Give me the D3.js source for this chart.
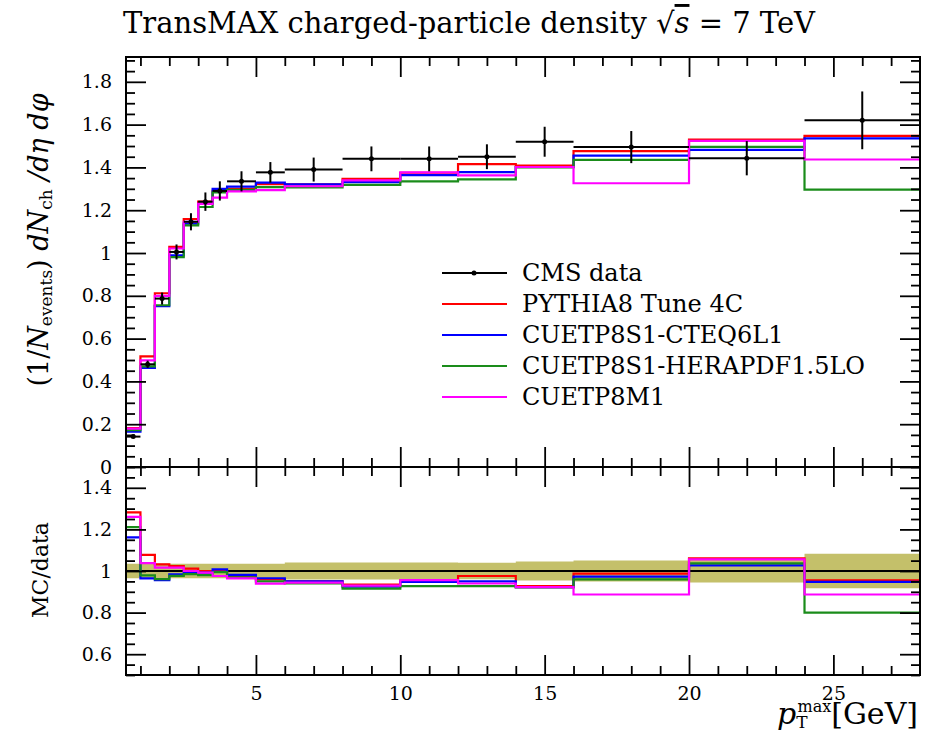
<!DOCTYPE html>
<html>
<head>
<meta charset="utf-8">
<script src="https://cdn.jsdelivr.net/npm/d3@7"></script>
<style>
  html, body { margin: 0; padding: 0; background: #fff; }
  svg { display: block; font-family: "DejaVu Serif", "Liberation Serif", serif; }
</style>
</head>
<body>
<svg id="chart" width="933" height="736"></svg>
<script>
// bin edges in pT max [GeV]
const binEdges = [0.5, 1, 1.5, 2, 2.5, 3, 3.5, 4, 5, 6, 8, 10, 12, 14, 16, 20, 24, 28];

// CMS data and its uncertainty
const cmsData = [0.142, 0.48, 0.787, 1.005, 1.146, 1.24, 1.29, 1.335, 1.377, 1.39, 1.44, 1.44, 1.45, 1.52, 1.495, 1.443, 1.62];
const cmsErr  = [0.005, 0.017, 0.028, 0.035, 0.04, 0.043, 0.045, 0.047, 0.048, 0.056, 0.058, 0.058, 0.058, 0.07, 0.075, 0.08, 0.135];

// MC predictions
const pythia4C  = [0.182, 0.517, 0.812, 1.029, 1.159, 1.24, 1.29, 1.30, 1.322, 1.321, 1.346, 1.375, 1.415, 1.409, 1.476, 1.530, 1.547];
const cteq6l1   = [0.165, 0.463, 0.752, 0.989, 1.137, 1.230, 1.30, 1.31, 1.329, 1.321, 1.331, 1.364, 1.378, 1.402, 1.455, 1.482, 1.536];
const herapdf   = [0.172, 0.470, 0.756, 0.981, 1.129, 1.215, 1.283, 1.295, 1.308, 1.307, 1.318, 1.335, 1.344, 1.400, 1.435, 1.496, 1.296];
const cuetp8m1  = [0.179, 0.498, 0.800, 1.021, 1.146, 1.230, 1.259, 1.288, 1.294, 1.312, 1.339, 1.377, 1.363, 1.402, 1.326, 1.524, 1.437];

const mcSeries = [
  { name: 'PYTHIA8 Tune 4C', values: pythia4C, color: '#ff0000' },
  { name: 'CUETP8S1-CTEQ6L1', values: cteq6l1, color: '#0000ff' },
  { name: 'CUETP8S1-HERAPDF1.5LO', values: herapdf, color: '#1a8c1a' },
  { name: 'CUETP8M1', values: cuetp8m1, color: '#ff00ff' }
];

const mainTicks  = [0, 0.2, 0.4, 0.6, 0.8, 1, 1.2, 1.4, 1.6, 1.8];
const ratioTicks = [0.6, 0.8, 1, 1.2, 1.4];
const xTicks     = [5, 10, 15, 20, 25];

const svg = d3.select('#chart');
const left = 126, right = 920;
const mainTop = 57, mainBottom = 467, ratioBottom = 675;

const x = d3.scaleLinear().domain([0.5, 28]).range([left, right]);
const y = d3.scaleLinear().domain([0, 1.916]).range([mainBottom, mainTop]);
const yr = d3.scaleLinear().domain([0.5, 1.5]).range([ratioBottom, mainBottom]);

const fmt = d => String(+d.toFixed(1));
const majorLen = 20, minorLen = 9;

// clip paths
const defs = svg.append('defs');
defs.append('clipPath').attr('id', 'clipMain').append('rect')
  .attr('x', left).attr('y', mainTop).attr('width', right - left).attr('height', mainBottom - mainTop);
defs.append('clipPath').attr('id', 'clipRatio').append('rect')
  .attr('x', left).attr('y', mainBottom).attr('width', right - left).attr('height', ratioBottom - mainBottom);

// step line helper: value held across each bin
function stepPoints(vals) {
  const pts = vals.map((v, i) => [binEdges[i], v]);
  pts.push([binEdges[vals.length], vals[vals.length - 1]]);
  return pts;
}

// ---- ratio band (data uncertainty) ----
const bandPts = cmsData.map((d, i) => ({ x: binEdges[i], lo: 1 - cmsErr[i] / d, hi: 1 + cmsErr[i] / d }));
bandPts.push({ x: binEdges[cmsData.length], lo: bandPts[bandPts.length - 1].lo, hi: bandPts[bandPts.length - 1].hi });
svg.append('path')
  .attr('clip-path', 'url(#clipRatio)')
  .attr('fill', '#c4c06a')
  .attr('d', d3.area().curve(d3.curveStepAfter)
    .x(d => x(d.x)).y0(d => yr(d.lo)).y1(d => yr(d.hi))(bandPts));

svg.append('line')
  .attr('x1', left).attr('x2', right)
  .attr('y1', yr(1)).attr('y2', yr(1))
  .attr('stroke', '#000').attr('stroke-width', 2);

// ---- MC histograms ----
const stepLine = (ys) => d3.line().curve(d3.curveStepAfter).x(d => x(d[0])).y(d => ys(d[1]));

mcSeries.forEach(s => {
  svg.append('path')
    .attr('clip-path', 'url(#clipMain)')
    .attr('fill', 'none')
    .attr('stroke', s.color)
    .attr('stroke-width', 2.2)
    .attr('d', stepLine(y)(stepPoints(s.values)));
  const ratio = s.values.map((v, i) => v / cmsData[i]);
  svg.append('path')
    .attr('clip-path', 'url(#clipRatio)')
    .attr('fill', 'none')
    .attr('stroke', s.color)
    .attr('stroke-width', 2.2)
    .attr('d', stepLine(yr)(stepPoints(ratio)));
});

// ---- data points ----
const pts = svg.append('g').attr('stroke', '#000').attr('stroke-width', 2);
cmsData.forEach((v, i) => {
  const lo = binEdges[i], hi = binEdges[i + 1], c = (lo + hi) / 2;
  pts.append('line').attr('x1', x(lo)).attr('x2', x(hi)).attr('y1', y(v)).attr('y2', y(v));
  pts.append('line').attr('x1', x(c)).attr('x2', x(c)).attr('y1', y(v - cmsErr[i])).attr('y2', y(v + cmsErr[i]));
  pts.append('circle').attr('cx', x(c)).attr('cy', y(v)).attr('r', 2.5).attr('fill', '#000').attr('stroke', 'none');
});

// ---- axes (ticks point inward on all sides) ----
function styleAxis(g) {
  g.select('.domain').remove();
  g.selectAll('.tick line').attr('stroke', '#000').attr('stroke-width', 1.8);
  g.selectAll('.tick text').attr('fill', '#000').attr('font-size', 19)
    .attr('font-family', '"DejaVu Serif", serif');
}

function yAxes(scale, majors) {
  const [d0, d1] = scale.domain();
  const minors = d3.range(Math.ceil(d0 / 0.05) * 0.05, d1 + 1e-9, 0.05)
    .filter(v => !majors.some(m => Math.abs(m - v) < 1e-6));
  svg.append('g').attr('transform', `translate(${left},0)`)
    .call(d3.axisLeft(scale).tickValues(majors).tickSizeInner(-majorLen).tickSizeOuter(0).tickPadding(14).tickFormat(fmt))
    .call(styleAxis);
  svg.append('g').attr('transform', `translate(${left},0)`)
    .call(d3.axisLeft(scale).tickValues(minors).tickSizeInner(-minorLen).tickSizeOuter(0).tickFormat(''))
    .call(styleAxis);
  svg.append('g').attr('transform', `translate(${right},0)`)
    .call(d3.axisRight(scale).tickValues(majors).tickSizeInner(-majorLen).tickSizeOuter(0).tickFormat(''))
    .call(styleAxis);
  svg.append('g').attr('transform', `translate(${right},0)`)
    .call(d3.axisRight(scale).tickValues(minors).tickSizeInner(-minorLen).tickSizeOuter(0).tickFormat(''))
    .call(styleAxis);
}
yAxes(y, mainTicks);
yAxes(yr, ratioTicks);

const xMinors = d3.range(1, 28).filter(v => v % 5 !== 0);
function xAxes(yPos, axisFn, withLabels) {
  svg.append('g').attr('transform', `translate(0,${yPos})`)
    .call(axisFn(x).tickValues(xTicks).tickSizeInner(-majorLen).tickSizeOuter(0).tickPadding(12)
      .tickFormat(withLabels ? d3.format('d') : ''))
    .call(styleAxis);
  svg.append('g').attr('transform', `translate(0,${yPos})`)
    .call(axisFn(x).tickValues(xMinors).tickSizeInner(-minorLen).tickSizeOuter(0).tickFormat(''))
    .call(styleAxis);
}
xAxes(mainTop, d3.axisTop, false);
xAxes(mainBottom, d3.axisBottom, false);
xAxes(mainBottom, d3.axisTop, false);
xAxes(ratioBottom, d3.axisBottom, true);

// frames
[[mainTop, mainBottom], [mainBottom, ratioBottom]].forEach(([t, b]) => {
  svg.append('rect').attr('x', left).attr('y', t).attr('width', right - left).attr('height', b - t)
    .attr('fill', 'none').attr('stroke', '#000').attr('stroke-width', 2);
});

// ---- legend ----
const legendItems = [{ name: 'CMS data', color: '#000', isData: true }].concat(mcSeries);
const legend = svg.append('g').attr('transform', 'translate(442,273)');
legendItems.forEach((d, i) => {
  const row = legend.append('g').attr('transform', `translate(0,${i * 31})`);
  row.append('line').attr('x1', 0).attr('x2', 65).attr('y1', 0).attr('y2', 0)
    .attr('stroke', d.color).attr('stroke-width', 2);
  if (d.isData) row.append('circle').attr('cx', 32).attr('cy', 0).attr('r', 2.5).attr('fill', '#000');
  row.append('text').attr('x', 80).attr('y', 0).attr('dy', '0.35em')
    .attr('font-size', 24).attr('fill', '#000').text(d.name);
});

// ---- title ----
const title = svg.append('text').attr('x', 123).attr('y', 33).attr('font-size', 29).attr('fill', '#000');
title.append('tspan').text('TransMAX charged-particle density ');
title.append('tspan').text('√');
title.append('tspan').attr('font-style', 'italic').attr('text-decoration', 'overline').text('s');
title.append('tspan').text(' = 7 TeV');

// ---- y labels ----
const yl = svg.append('text').attr('transform', 'translate(48,240) rotate(-90)')
  .attr('text-anchor', 'middle').attr('font-size', 27).attr('fill', '#000');
yl.append('tspan').text('(1/');
yl.append('tspan').attr('font-style', 'italic').text('N');
yl.append('tspan').attr('font-size', 17).attr('baseline-shift', '-25%').text('events');
yl.append('tspan').text(') ');
yl.append('tspan').attr('font-style', 'italic').text('dN');
yl.append('tspan').attr('font-size', 17).attr('baseline-shift', '-25%').text('ch');
yl.append('tspan').attr('font-style', 'italic').text(' /dη dφ');

svg.append('text').attr('transform', 'translate(48,570) rotate(-90)')
  .attr('text-anchor', 'middle').attr('font-size', 22).attr('fill', '#000').text('MC/data');

// ---- x label ----
const xl = svg.append('text').attr('x', 918).attr('y', 724).attr('text-anchor', 'end')
  .attr('font-size', 30).attr('fill', '#000');
xl.append('tspan').attr('font-style', 'italic').text('p');
xl.append('tspan').attr('font-size', 17).attr('dy', 4).text('T');
xl.append('tspan').attr('font-size', 16).attr('dx', -10).attr('dy', -16).text('max');
xl.append('tspan').attr('dy', 12).text('[GeV]');
</script>
</body>
</html>
